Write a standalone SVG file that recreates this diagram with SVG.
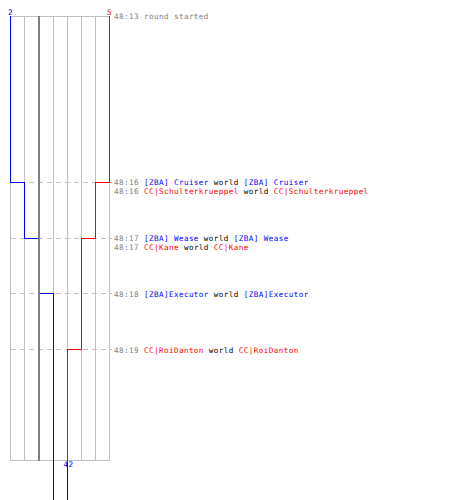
<svg xmlns="http://www.w3.org/2000/svg" width="450" height="500" viewBox="0 0 450 500">
<style>
  path{shape-rendering:crispEdges}
  .grid{stroke:#c0c0c0;stroke-width:1;fill:none}
  .world{stroke:#808080;stroke-width:2;fill:none}
  .dash{stroke:#c0c0c0;stroke-width:1;stroke-dasharray:5,4;fill:none}
  .pb{stroke:#0000ff;stroke-width:1;fill:none}
  .pr{stroke:#ff0000;stroke-width:1;fill:none}
  text{font-family:"DejaVu Sans Mono","Liberation Mono",monospace;font-size:7.6px;letter-spacing:0.42px;white-space:pre}
  .t{fill:#808080}
  .b{fill:#0000ff}
  .r{fill:#ff0000}
  .k{fill:#000000}
</style>
<rect width="450" height="500" fill="#ffffff"/>
<g id="grid">
  <path class="grid" d="M10.5,16.5H109.5M10.5,460.5H109.5M10.5,16V461M24.5,16V461M53.5,16V461M67.5,16V461M81.5,16V461M95.5,16V461M109.5,16V461"/>
  <path class="dash" d="M11,182.5H112M11,238.5H112M11,293.5H112M11,349.5H112"/>
</g>
<g id="connectors">
  <path class="pb" d="M10.5,16V182.5H24.5V238.5H39V293.5H53.5V500"/>
  <path class="pr" d="M109.5,16V182.5H95.5V238.5H81.5V349.5H67.5V463"/>
  <path class="pb" d="M67.5,463V500"/>
  <path class="world" d="M39,16V461"/>
</g>
<g id="labels">
  <text class="b" x="10.5" y="15" text-anchor="middle">2</text>
  <text class="r" x="109.5" y="15" text-anchor="middle">5</text>
  <text class="b" x="63.5" y="467">42</text>
</g>
<g id="events">
  <text class="t" x="114" y="18.5">48:13 round started</text>
  <text x="114" y="185"><tspan class="t">48:16 </tspan><tspan class="b">[ZBA] Cruiser</tspan><tspan class="k"> world </tspan><tspan class="b">[ZBA] Cruiser</tspan></text>
  <text x="114" y="193.5"><tspan class="t">48:16 </tspan><tspan class="r">CC|Schulterkrueppel</tspan><tspan class="k"> world </tspan><tspan class="r">CC|Schulterkrueppel</tspan></text>
  <text x="114" y="241"><tspan class="t">48:17 </tspan><tspan class="b">[ZBA] Wease</tspan><tspan class="k"> world </tspan><tspan class="b">[ZBA] Wease</tspan></text>
  <text x="114" y="249.5"><tspan class="t">48:17 </tspan><tspan class="r">CC|Kane</tspan><tspan class="k"> world </tspan><tspan class="r">CC|Kane</tspan></text>
  <text x="114" y="296.5"><tspan class="t">48:18 </tspan><tspan class="b">[ZBA]Executor</tspan><tspan class="k"> world </tspan><tspan class="b">[ZBA]Executor</tspan></text>
  <text x="114" y="352.5"><tspan class="t">48:19 </tspan><tspan class="r">CC|RoiDanton</tspan><tspan class="k"> world </tspan><tspan class="r">CC|RoiDanton</tspan></text>
</g>
</svg>
